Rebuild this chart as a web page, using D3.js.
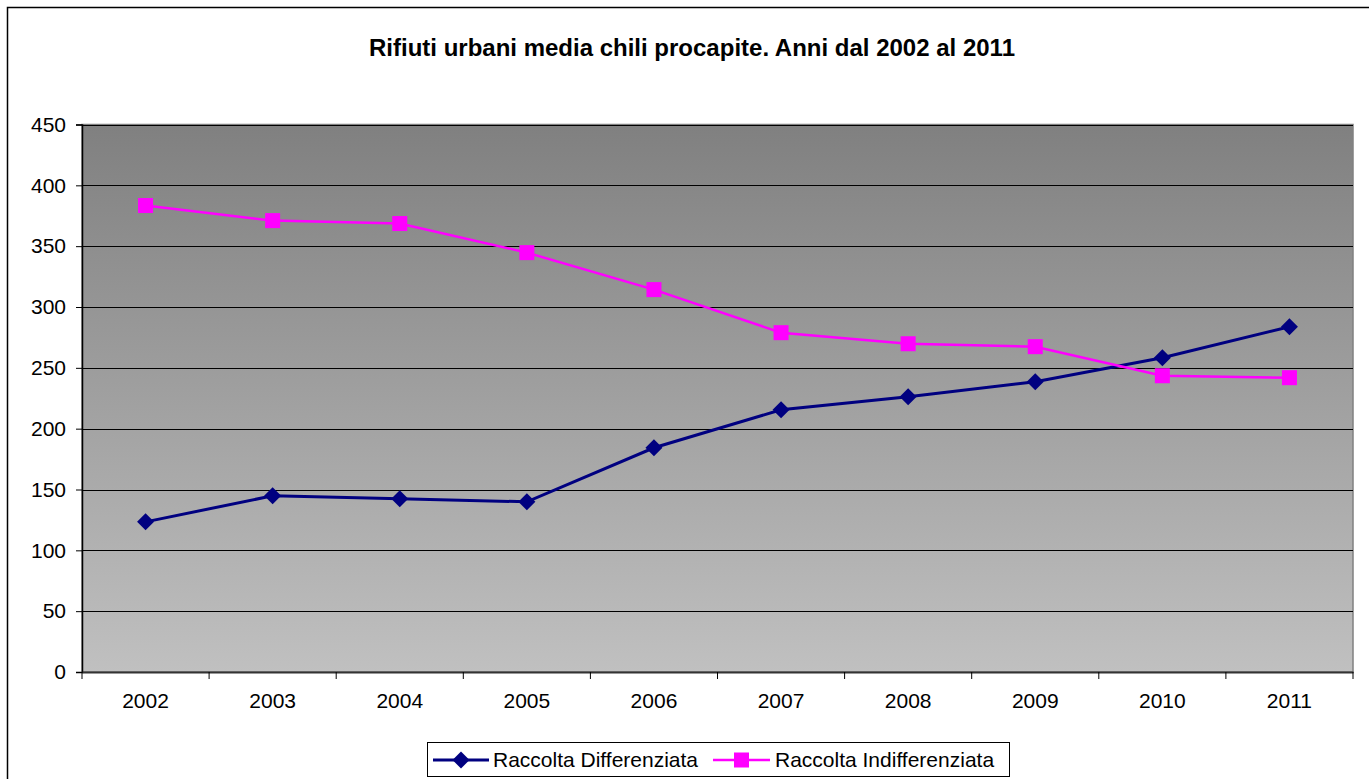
<!DOCTYPE html>
<html><head><meta charset="utf-8">
<script src="https://cdn.jsdelivr.net/npm/d3@7"></script>
<style>body{margin:0;background:#fff}svg{display:block}text{font-family:Arial,"Liberation Sans",sans-serif}</style>
</head><body>
<script>
const years = ["2002","2003","2004","2005","2006","2007","2008","2009","2010","2011"];
const differenziata = [123.4,144.8,142.3,139.9,184.3,215.5,226.2,238.6,258.3,283.8];
const indifferenziata = [383.4,371.0,368.6,344.7,314.3,278.9,269.8,267.4,243.5,241.9];
const yTicks = [0,50,100,150,200,250,300,350,400,450];
const title = "Rifiuti urbani media chili procapite. Anni dal 2002 al 2011";
const seriesNames = ["Raccolta Differenziata","Raccolta Indifferenziata"];

const W=1369,H=779;
const svg=d3.select("body").append("svg").attr("width",W).attr("height",H);
svg.append("rect").attr("x",7.5).attr("y",7.5).attr("width",W+10).attr("height",H+10).attr("fill","#fff").attr("stroke","#000").attr("stroke-width",1.5);

const L=82,R=1353,T=124.5,B=672;
const x=d3.scaleBand().domain(years).range([L,R]);
const y=d3.scaleLinear().domain([0,450]).range([B,T]);

const defs=svg.append("defs");
const g=defs.append("linearGradient").attr("id","bg").attr("x1",0).attr("y1",0).attr("x2",0).attr("y2",1);
g.append("stop").attr("offset","0%").attr("stop-color","#808080");
g.append("stop").attr("offset","100%").attr("stop-color","#c0c0c0");
svg.append("rect").attr("x",L).attr("y",T).attr("width",R-L).attr("height",B-T).attr("fill","url(#bg)").attr("stroke","#808080").attr("stroke-width",1.5);

svg.append("g").selectAll("line").data(yTicks.filter(d=>d>0)).join("line")
 .attr("x1",L).attr("x2",R).attr("y1",d=>Math.round(y(d))+0.5).attr("y2",d=>Math.round(y(d))+0.5)
 .attr("stroke","#000").attr("stroke-width",1);

const ya=svg.append("g").attr("transform",`translate(${L},0)`)
 .call(d3.axisLeft(y).tickValues(yTicks).tickSize(6).tickPadding(10).tickFormat(d3.format("d")));
ya.select(".domain").attr("stroke","#000").attr("stroke-width",1.5);
ya.selectAll("text").attr("font-size","21px").attr("fill","#000");
ya.selectAll(".tick line").attr("stroke","#000");

const xa=svg.append("g").attr("transform",`translate(0,${B})`)
 .call(d3.axisBottom(x).tickSize(0).tickPadding(21));
xa.select(".domain").attr("stroke","#333").attr("stroke-width",2);
xa.selectAll("text").attr("font-size","21px").attr("fill","#000");
const bounds=years.map(d=>x(d)).concat([R]);
svg.append("g").selectAll("line").data(bounds).join("line")
 .attr("x1",d=>d).attr("x2",d=>d).attr("y1",B).attr("y2",B+7).attr("stroke","#000");

const cx=d=>x(d)+x.bandwidth()/2;
const line=d3.line().x((d,i)=>cx(years[i])).y(d=>y(d));

svg.append("path").datum(differenziata).attr("d",line).attr("fill","none").attr("stroke","#000080").attr("stroke-width",3);
svg.append("path").datum(indifferenziata).attr("d",line).attr("fill","none").attr("stroke","#ff00ff").attr("stroke-width",2.5);

svg.append("g").selectAll("path").data(differenziata).join("path")
 .attr("transform",(d,i)=>`translate(${cx(years[i])},${y(d)})`)
 .attr("d","M0,-8.5L8.5,0L0,8.5L-8.5,0Z").attr("fill","#000080");
svg.append("g").selectAll("rect").data(indifferenziata).join("rect")
 .attr("x",(d,i)=>cx(years[i])-7.5).attr("y",d=>y(d)-7.5).attr("width",15).attr("height",15).attr("fill","#ff00ff");

svg.append("text").attr("x",692).attr("y",56).attr("text-anchor","middle").attr("font-size","24px").attr("font-weight","bold").text(title);

const lg=svg.append("g");
lg.append("rect").attr("x",427.5).attr("y",742.5).attr("width",582).attr("height",34).attr("fill","#fff").attr("stroke","#000");
const ly=760;
lg.append("line").attr("x1",433).attr("x2",489).attr("y1",ly).attr("y2",ly).attr("stroke","#000080").attr("stroke-width",3);
lg.append("path").attr("transform",`translate(461,${ly})`).attr("d","M0,-8.5L8.5,0L0,8.5L-8.5,0Z").attr("fill","#000080");
lg.append("text").attr("x",493).attr("y",ly+7).attr("font-size","21px").text(seriesNames[0]);
lg.append("line").attr("x1",713).attr("x2",770).attr("y1",ly).attr("y2",ly).attr("stroke","#ff00ff").attr("stroke-width",2.5);
lg.append("rect").attr("x",734).attr("y",ly-7.5).attr("width",15).attr("height",15).attr("fill","#ff00ff");
lg.append("text").attr("x",775).attr("y",ly+7).attr("font-size","21px").text(seriesNames[1]);
</script>
</body></html>
